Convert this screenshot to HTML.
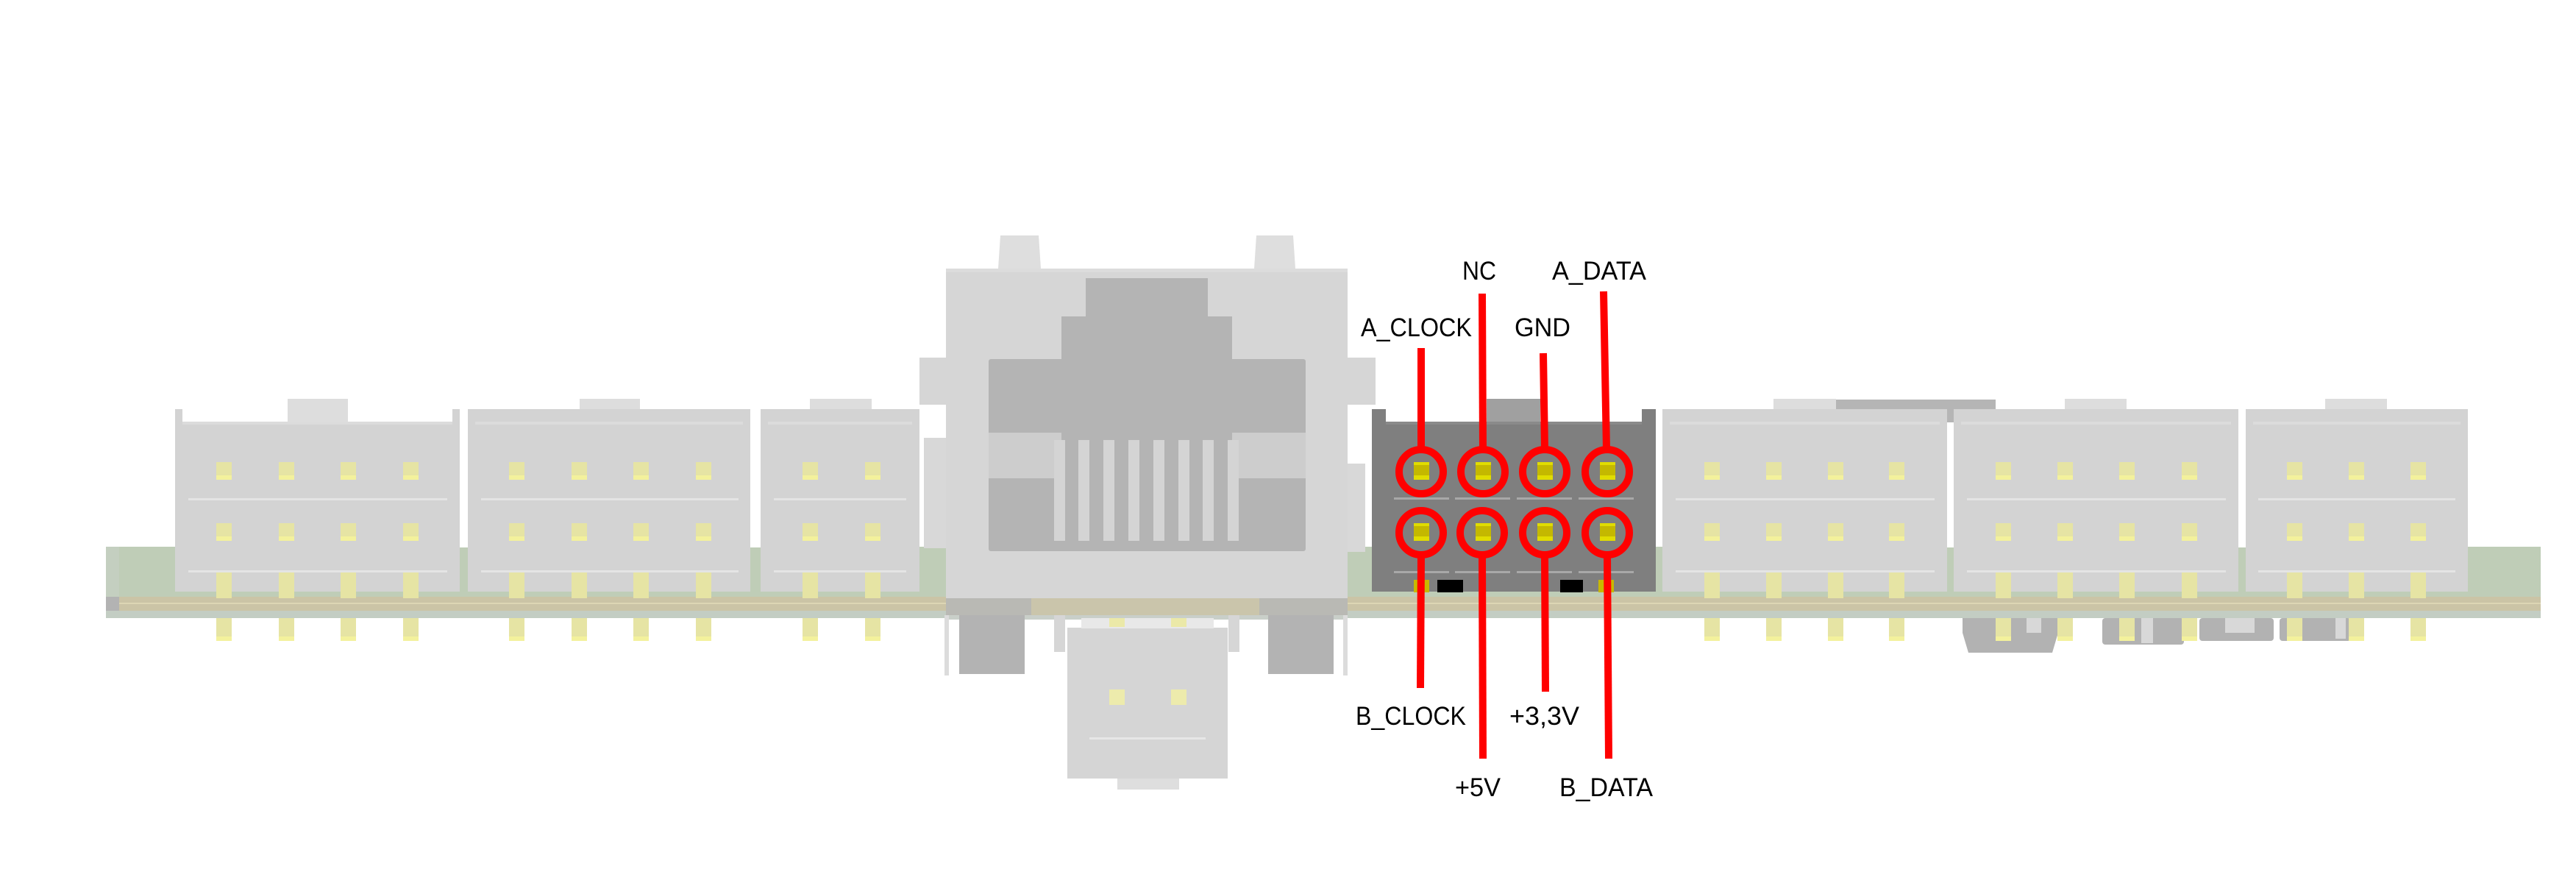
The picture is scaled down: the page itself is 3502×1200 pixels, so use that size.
<!DOCTYPE html>
<html><head><meta charset="utf-8"><style>
html,body{margin:0;padding:0;background:#fff;}
svg{display:block;}
text{font-family:"Liberation Sans",Arial,sans-serif;font-size:35px;fill:#000;}
</style></head><body>
<svg width="3502" height="1200" viewBox="0 0 3502 1200" xmlns="http://www.w3.org/2000/svg">
<rect width="3502" height="1200" fill="#fff"/>

<!-- PCB -->
<rect x="144" y="743" width="3310" height="97" fill="#bfcdb7"/>
<rect x="144" y="743" width="18" height="97" fill="#c4cfc0"/>
<rect x="162" y="811" width="3292" height="19" fill="#cbc4a6"/>
<rect x="162" y="819" width="3292" height="2" fill="#ddd6b4"/>
<rect x="144" y="811" width="18" height="19" fill="#b3b3b3"/>
<rect x="144" y="830" width="3310" height="10" fill="#c3cdc3"/>

<!-- lower components below board -->
<g fill="#b2b2b2">
<path d="M2668 840 H2798 V860 L2790 887 H2676 L2668 860Z"/>
<rect x="2858" y="840" width="111" height="36" rx="4"/>
<rect x="2990" y="840" width="101" height="31" rx="4"/>
<rect x="3099" y="840" width="97" height="31" rx="4"/>
</g>
<g fill="#d8d8d8">
<rect x="2755" y="840" width="20" height="20"/>
<rect x="2911" y="840" width="16" height="34"/>
<rect x="3025" y="840" width="40" height="20"/>
<rect x="3175" y="840" width="14" height="28"/>
</g>

<!-- Generic light connectors -->
<defs>
<g id="pinpair">
<rect x="-10" y="628" width="21" height="24" fill="#e6e4a4"/>
<rect x="-10" y="646" width="21" height="6" fill="#f3f19c"/>
<rect x="-10" y="711" width="21" height="24" fill="#e6e4a4"/>
<rect x="-10" y="729" width="21" height="6" fill="#f3f19c"/>
<rect x="-10" y="778" width="21" height="35" fill="#e6e4a4"/>
<rect x="-10" y="840" width="21" height="31" fill="#e6e4a4"/>
<rect x="-10" y="865" width="21" height="6" fill="#f3f19c"/>
</g>
</defs>

<g id="conns">
<!-- L1 -->
<rect x="391" y="542" width="82" height="32" fill="#dddddd"/>
<rect x="238" y="556" width="10" height="248" fill="#d3d3d3"/>
<rect x="615" y="556" width="10" height="248" fill="#d3d3d3"/>
<rect x="238" y="573" width="387" height="204" fill="#d3d3d3"/>
<rect x="248" y="573" width="367" height="4" fill="#dcdcdc"/>
<rect x="238" y="777" width="387" height="27" fill="#d3d3d3"/>
<rect x="256" y="677" width="352" height="3" fill="#e4e4e4"/>
<rect x="256" y="775" width="352" height="3" fill="#e4e4e4"/>
<!-- L2 -->
<rect x="788" y="542" width="82" height="32" fill="#dddddd"/>
<rect x="636" y="556" width="384" height="248" fill="#d3d3d3"/>
<rect x="646" y="573" width="364" height="4" fill="#dcdcdc"/>
<rect x="654" y="677" width="350" height="3" fill="#e4e4e4"/>
<rect x="654" y="775" width="350" height="3" fill="#e4e4e4"/>
<!-- L3 -->
<rect x="1101" y="542" width="84" height="32" fill="#dddddd"/>
<rect x="1034" y="556" width="216" height="248" fill="#d3d3d3"/>
<rect x="1044" y="573" width="196" height="4" fill="#dcdcdc"/>
<rect x="1052" y="677" width="180" height="3" fill="#e4e4e4"/>
<rect x="1052" y="775" width="180" height="3" fill="#e4e4e4"/>
<!-- R1 -->
<rect x="2496" y="543" width="217" height="31" fill="#b5b5b5"/>
<rect x="2411" y="542" width="85" height="32" fill="#dddddd"/>
<rect x="2260" y="556" width="387" height="248" fill="#d3d3d3"/>
<rect x="2270" y="573" width="367" height="4" fill="#dcdcdc"/>
<rect x="2278" y="677" width="352" height="3" fill="#e4e4e4"/>
<rect x="2278" y="775" width="352" height="3" fill="#e4e4e4"/>
<!-- R2 -->
<rect x="2807" y="542" width="84" height="32" fill="#dddddd"/>
<rect x="2656" y="556" width="387" height="248" fill="#d3d3d3"/>
<rect x="2666" y="573" width="367" height="4" fill="#dcdcdc"/>
<rect x="2674" y="677" width="352" height="3" fill="#e4e4e4"/>
<rect x="2674" y="775" width="352" height="3" fill="#e4e4e4"/>
<!-- R3 -->
<rect x="3161" y="542" width="84" height="32" fill="#dddddd"/>
<rect x="3053" y="556" width="302" height="248" fill="#d3d3d3"/>
<rect x="3063" y="573" width="282" height="4" fill="#dcdcdc"/>
<rect x="3070" y="677" width="268" height="3" fill="#e4e4e4"/>
<rect x="3070" y="775" width="268" height="3" fill="#e4e4e4"/>
</g>
<!-- gaps between connectors -->
<rect x="625" y="556" width="11" height="188" fill="#fff"/>
<rect x="1020" y="556" width="14" height="188" fill="#fff"/>
<rect x="2647" y="574" width="9" height="170" fill="#fff"/>
<rect x="3043" y="556" width="10" height="188" fill="#fff"/>

<g>
<use href="#pinpair" x="304"/><use href="#pinpair" x="389"/><use href="#pinpair" x="473"/><use href="#pinpair" x="558"/>
<use href="#pinpair" x="702"/><use href="#pinpair" x="787"/><use href="#pinpair" x="871"/><use href="#pinpair" x="956"/>
<use href="#pinpair" x="1101"/><use href="#pinpair" x="1186"/>
<use href="#pinpair" x="2327"/><use href="#pinpair" x="2411"/><use href="#pinpair" x="2495"/><use href="#pinpair" x="2578"/>
<use href="#pinpair" x="2723"/><use href="#pinpair" x="2807"/><use href="#pinpair" x="2891"/><use href="#pinpair" x="2976"/>
<use href="#pinpair" x="3119"/><use href="#pinpair" x="3203"/><use href="#pinpair" x="3287"/>
</g>

<!-- RJ45 -->
<rect x="1250" y="486" width="36" height="64" fill="#d6d6d6"/>
<rect x="1832" y="486" width="38" height="64" fill="#d6d6d6"/>
<rect x="1256" y="595" width="30" height="150" fill="#d8d8d8"/>
<rect x="1832" y="630" width="24" height="120" fill="#d8d8d8"/>
<path d="M1357 365 L1360 320 H1412 L1415 365Z" fill="#dedede"/>
<path d="M1705 365 L1708 320 H1758 L1761 365Z" fill="#dedede"/>
<rect x="1286" y="365" width="546" height="448" fill="#d6d6d6"/>
<rect x="1286" y="365" width="546" height="5" fill="#dcdcdc"/>
<rect x="1344" y="488" width="431" height="261" rx="3" fill="#b4b4b4"/>
<rect x="1476" y="378" width="166" height="60" fill="#b4b4b4"/>
<rect x="1443" y="430" width="232" height="70" fill="#b4b4b4"/>
<rect x="1344" y="588" width="99" height="62" fill="#cdcdcd"/>
<rect x="1675" y="588" width="100" height="62" fill="#cdcdcd"/>
<g fill="#d4d4d4">
<rect x="1433" y="598" width="15" height="137"/><rect x="1466" y="598" width="15" height="137"/>
<rect x="1500" y="598" width="15" height="137"/><rect x="1534" y="598" width="15" height="137"/>
<rect x="1568" y="598" width="15" height="137"/><rect x="1602" y="598" width="15" height="137"/>
<rect x="1635" y="598" width="15" height="137"/><rect x="1669" y="598" width="15" height="137"/>
</g>
<rect x="1286" y="813" width="546" height="23" fill="#b9b9b4"/>
<rect x="1402" y="813" width="310" height="23" fill="#cac5ab"/>
<rect x="1286" y="836" width="546" height="6" fill="#c9cfc9"/>
<rect x="1304" y="836" width="89" height="80" fill="#b3b3b3"/>
<rect x="1724" y="836" width="89" height="80" fill="#b3b3b3"/>
<rect x="1284" y="836" width="6" height="82" fill="#dcdcdc"/>
<rect x="1826" y="836" width="6" height="82" fill="#dcdcdc"/>
<rect x="1433" y="836" width="15" height="50" fill="#d6d6d6"/>
<rect x="1670" y="836" width="15" height="50" fill="#d6d6d6"/>
<!-- small connector below -->
<rect x="1451" y="853" width="218" height="205" fill="#d5d5d5"/>
<rect x="1470" y="840" width="180" height="14" fill="#e8e8e8"/>
<rect x="1508" y="840" width="21" height="12" fill="#ebe9a8"/>
<rect x="1592" y="840" width="21" height="12" fill="#ebe9a8"/>
<rect x="1519" y="1058" width="84" height="15" fill="#dedede"/>
<rect x="1508" y="937" width="21" height="21" fill="#edebac"/>
<rect x="1592" y="937" width="21" height="21" fill="#edebac"/>
<rect x="1481" y="1002" width="158" height="3" fill="#e6e6e6"/>

<!-- Dark connector -->
<rect x="2021" y="542" width="73" height="32" fill="#a0a0a0"/>
<rect x="1865" y="556" width="19" height="248" fill="#7f7f7f"/>
<rect x="2232" y="556" width="19" height="248" fill="#7f7f7f"/>
<rect x="1865" y="573" width="386" height="231" fill="#7f7f7f"/>
<rect x="1884" y="573" width="348" height="4" fill="#8a8a8a"/>
<g fill="#a8a8a8">
<rect x="1895" y="676" width="75" height="3"/><rect x="1978" y="676" width="75" height="3"/>
<rect x="2062" y="676" width="75" height="3"/><rect x="2146" y="676" width="75" height="3"/>
<rect x="1895" y="776" width="75" height="3"/><rect x="1978" y="776" width="75" height="3"/>
<rect x="2062" y="776" width="75" height="3"/><rect x="2146" y="776" width="75" height="3"/>
</g>
<rect x="1954" y="788" width="35" height="17" fill="#000"/>
<rect x="2121" y="788" width="31" height="17" fill="#000"/>
<rect x="1922" y="788" width="21" height="17" fill="#c8b800"/>
<rect x="2173" y="788" width="21" height="17" fill="#c8b800"/>
<g id="dp">
<rect x="1922" y="628" width="21" height="24" fill="#c4b800"/>
<rect x="1922" y="628" width="21" height="4" fill="#e0dc00"/>
<rect x="1922" y="646" width="21" height="6" fill="#e0dc00"/>
</g>
<use href="#dp" x="84"/><use href="#dp" x="168"/><use href="#dp" x="253"/>
<use href="#dp" y="83"/><use href="#dp" x="84" y="83"/><use href="#dp" x="168" y="83"/><use href="#dp" x="253" y="83"/>

<!-- Red annotations -->
<g fill="none" stroke="#ff0000" stroke-width="10">
<circle cx="1932" cy="641" r="30"/><circle cx="2016" cy="641" r="30"/>
<circle cx="2100" cy="641" r="30"/><circle cx="2185" cy="641" r="30"/>
<circle cx="1932" cy="724" r="30"/><circle cx="2015" cy="724" r="30"/>
<circle cx="2100" cy="724" r="30"/><circle cx="2185" cy="724" r="30"/>
</g>
<g stroke="#ff0000" stroke-width="10">
<line x1="1932" y1="473" x2="1932" y2="611"/>
<line x1="2015" y1="399" x2="2016" y2="611"/>
<line x1="2098" y1="480" x2="2100" y2="611"/>
<line x1="2180" y1="396" x2="2184" y2="611"/>
<line x1="1932" y1="754" x2="1931" y2="935"/>
<line x1="2015" y1="754" x2="2016" y2="1031"/>
<line x1="2100" y1="754" x2="2101" y2="940"/>
<line x1="2185" y1="754" x2="2187" y2="1031"/>
</g>

<!-- Labels -->
<text x="1988" y="380" textLength="46" lengthAdjust="spacingAndGlyphs">NC</text>
<text x="2110" y="380" textLength="128" lengthAdjust="spacingAndGlyphs">A_DATA</text>
<text x="1850" y="457" textLength="151" lengthAdjust="spacingAndGlyphs">A_CLOCK</text>
<text x="2059" y="457" textLength="76" lengthAdjust="spacingAndGlyphs">GND</text>
<text x="1843" y="985" textLength="150" lengthAdjust="spacingAndGlyphs">B_CLOCK</text>
<text x="2052" y="985" textLength="95" lengthAdjust="spacingAndGlyphs">+3,3V</text>
<text x="1978" y="1082" textLength="62" lengthAdjust="spacingAndGlyphs">+5V</text>
<text x="2120" y="1082" textLength="127" lengthAdjust="spacingAndGlyphs">B_DATA</text>
</svg>
</body></html>
